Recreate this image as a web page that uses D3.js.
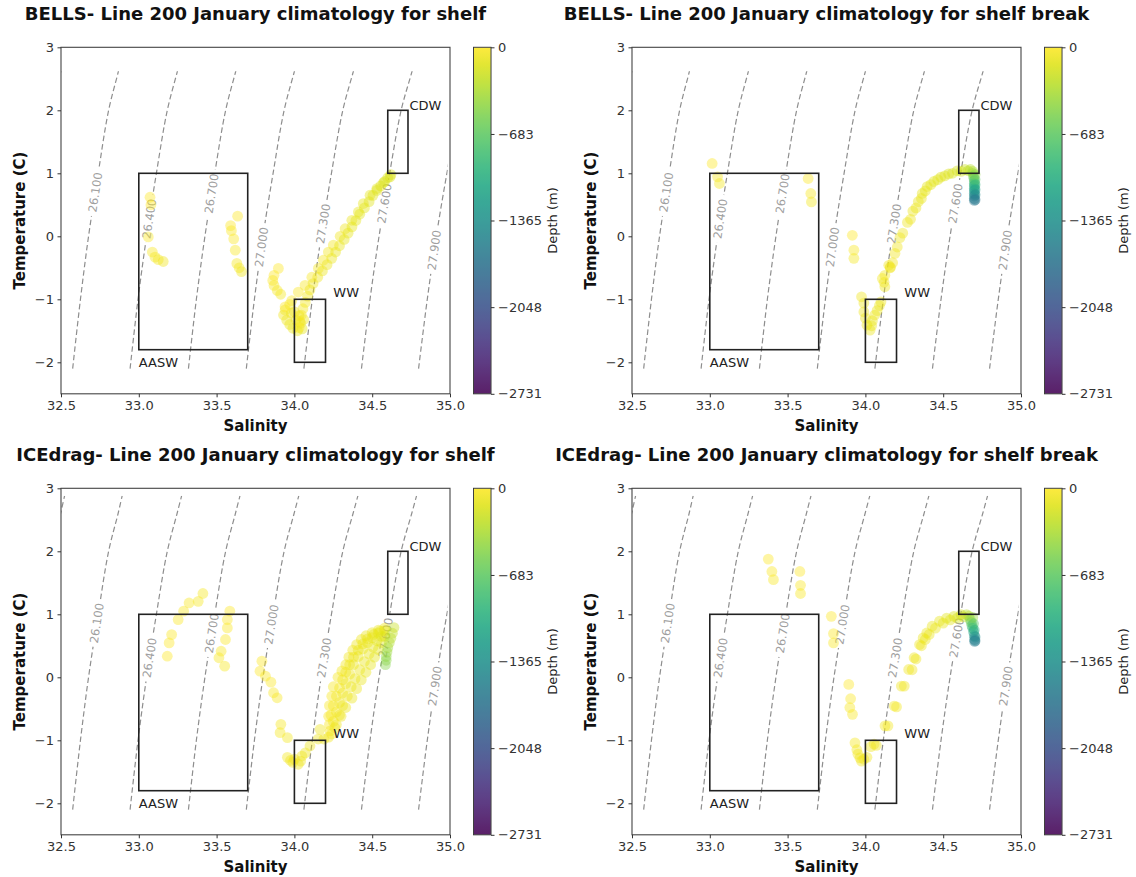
<!DOCTYPE html>
<html>
<head>
<meta charset="utf-8">
<script src="https://cdn.jsdelivr.net/npm/d3@7"></script>
<style>
  body { margin: 0; background: #fff; }
  text { font-family: "DejaVu Sans", sans-serif; }
</style>
</head>
<body>
<svg id="chart"></svg>
<script>
// ---- data ----
const titles = [
  'BELLS- Line 200 January climatology for shelf',
  'BELLS- Line 200 January climatology for shelf break',
  'ICEdrag- Line 200 January climatology for shelf',
  'ICEdrag- Line 200 January climatology for shelf break'
];
const salinityTicks = [32.5, 33.0, 33.5, 34.0, 34.5, 35.0];
const temperatureTicks = [-2, -1, 0, 1, 2, 3];
const depthTicks = [0, -683, -1365, -2048, -2731];

// isopycnals (sigma-theta): salinity at each temperature level
const isoLevels = [25.8, 26.1, 26.4, 26.7, 27.0, 27.3, 27.6, 27.9];
const isoTemps = [-2.1, -1, 0, 1, 2, 2.6, 2.88];
const isoSalinity = [
  [32.205, 32.255, 32.307, 32.369, 32.436, 32.497, 32.523],
  [32.575, 32.625, 32.677, 32.739, 32.806, 32.867, 32.893],
  [32.944, 32.995, 33.050, 33.113, 33.183, 33.246, 33.275],
  [33.319, 33.370, 33.425, 33.488, 33.558, 33.621, 33.650],
  [33.691, 33.743, 33.798, 33.863, 33.934, 33.998, 34.028],
  [34.061, 34.115, 34.172, 34.238, 34.311, 34.377, 34.408],
  [34.431, 34.486, 34.544, 34.612, 34.686, 34.754, 34.785],
  [34.798, 34.854, 34.912, 34.980, 35.055, 35.125, 35.160]
];
const isoGridTop = [2.62, 2.62, 2.88, 2.88];      // top of the density grid per panel
const isoGridMaxSalinity = 34.985;
const isoLabelTempsTop = [null, 0.70, 0.28, 0.68, -0.17, 0.20, 0.52, -0.22];
const isoLabelTempsBottom = [null, 0.86, 0.31, 0.70, 0.84, 0.31, 0.63, -0.14];

const waterMassNames = ['AASW', 'WW', 'CDW'];
const waterMassSalinity = [[33.0, 33.7], [34.0, 34.2], [34.6, 34.73]];
const waterMassTemperature = [[-1.8, 1.0], [-2.0, -1.0], [1.0, 2.0]];
const waterMassLabelAt = [[33.0, -2.0], [34.25, -0.9], [34.74, 2.08]];

// [salinity, temperature, depth]
const bellsShelf = [
  [33.072, 0.62, -5], [33.078, 0.5, -10], [33.061, -0.01, -20], [33.087, -0.25, -30],
  [33.104, -0.33, -40], [33.125, -0.37, -50], [33.157, -0.40, -60],
  [33.635, 0.32, -5], [33.59, 0.17, -10], [33.595, 0.09, -15], [33.61, -0.04, -20],
  [33.62, -0.22, -30], [33.63, -0.43, -40], [33.645, -0.5, -50], [33.66, -0.56, -60],
  [33.897, -0.51, -5], [33.869, -0.62, -10], [33.861, -0.70, -20], [33.869, -0.78, -30],
  [33.89, -0.86, -40], [33.912, -0.92, -50],
  [33.93, -1.25, -60], [33.94, -1.17, -55], [33.95, -1.33, -70], [33.97, -1.40, -80],
  [33.99, -1.46, -90], [34.02, -1.5, -100], [34.05, -1.47, -110], [33.98, -1.22, -65],
  [34.01, -1.33, -75], [34.04, -1.38, -85], [33.97, -1.08, -50], [34.0, -1.2, -60],
  [34.03, -1.26, -70], [34.06, -1.32, -80],
  [33.94, -1.12, -10], [33.983, -1.02, -15], [34.025, -0.885, -20], [34.068, -0.78, -25],
  [34.112, -0.65, -30], [34.154, -0.51, -35], [34.186, -0.38, -40], [34.218, -0.25, -45],
  [34.25, -0.14, -50], [34.294, 0.0, -60], [34.326, 0.12, -70], [34.369, 0.254, -80],
  [34.411, 0.386, -90], [34.443, 0.52, -100], [34.486, 0.652, -110], [34.53, 0.758, -120],
  [34.572, 0.85, -130], [34.615, 0.943, -140],
  [34.03, -1.45, -30], [34.035, -1.35, -35], [34.045, -1.25, -40], [34.055, -1.15, -45],
  [34.07, -1.05, -50], [34.085, -0.95, -55], [34.1, -0.85, -60], [34.12, -0.75, -65],
  [34.15, -0.65, -70], [34.18, -0.55, -75], [34.21, -0.45, -80], [34.24, -0.35, -85],
  [34.265, -0.25, -90], [34.29, -0.15, -95], [34.32, -0.05, -100], [34.345, 0.05, -105],
  [34.37, 0.15, -110], [34.395, 0.25, -115], [34.42, 0.35, -120], [34.45, 0.45, -125],
  [34.48, 0.55, -130], [34.505, 0.65, -135], [34.53, 0.73, -140], [34.555, 0.8, -145],
  [34.58, 0.87, -150], [34.6, 0.93, -155], [34.62, 0.98, -160]
];

const bellsBreak = [
  [33.015, 1.156, -10], [33.05, 0.944, -30], [33.062, 0.838, -50],
  [33.632, 0.917, -10], [33.649, 0.679, -30], [33.653, 0.546, -50],
  [33.916, 0.016, -10], [33.926, -0.22, -30], [33.926, -0.35, -50],
  [33.975, -0.96, -60], [33.99, -1.06, -65], [33.99, -1.2, -70], [34.0, -1.3, -75],
  [34.01, -1.41, -80], [34.03, -1.49, -85], [34.04, -1.42, -90], [34.045, -1.34, -90],
  [34.06, -1.25, -85], [34.075, -1.18, -80], [34.09, -1.1, -75], [34.1, -1.04, -70],
  [34.12, -0.73, -60], [34.125, -0.8, -65], [34.15, -0.46, -55], [34.16, -0.5, -55],
  [34.109, -0.67, -50], [34.16, -0.49, -55], [34.19, -0.27, -60], [34.222, -0.02, -65],
  [34.27, 0.22, -70], [34.305, 0.4, -80], [34.34, 0.55, -90], [34.365, 0.68, -100],
  [34.397, 0.79, -110], [34.44, 0.87, -120], [34.485, 0.94, -130], [34.535, 0.99, -150],
  [34.59, 1.04, -180], [34.64, 1.06, -230], [34.675, 1.06, -300],
  [34.125, -0.62, -50], [34.175, -0.42, -55], [34.205, -0.17, -60], [34.24, 0.05, -65],
  [34.29, 0.27, -70], [34.325, 0.45, -80], [34.36, 0.6, -90], [34.385, 0.72, -100],
  [34.42, 0.82, -110], [34.465, 0.9, -120], [34.51, 0.96, -130], [34.56, 1.0, -150],
  [34.615, 1.03, -190], [34.66, 1.04, -250], [34.69, 1.03, -330],
  [34.69, 1.0, -400], [34.695, 0.96, -520], [34.697, 0.92, -650], [34.7, 0.88, -780],
  [34.7, 0.84, -900], [34.7, 0.8, -1020], [34.7, 0.76, -1140], [34.7, 0.72, -1250],
  [34.7, 0.68, -1360], [34.7, 0.64, -1460], [34.7, 0.6, -1560], [34.7, 0.57, -1660],
  [34.705, 0.98, -450], [34.705, 0.9, -700], [34.705, 0.82, -950], [34.705, 0.74, -1200],
  [34.705, 0.66, -1420], [34.705, 0.58, -1620]
];

const icedragShelf = [
  [33.183, 0.335, -5], [33.195, 0.546, -10], [33.211, 0.678, -15], [33.253, 0.916, -20],
  [33.288, 1.05, -25], [33.323, 1.18, -30], [33.382, 1.206, -35], [33.412, 1.33, -40],
  [33.585, 1.05, -5], [33.569, 0.916, -10], [33.569, 0.784, -15], [33.557, 0.6, -20],
  [33.529, 0.414, -25], [33.515, 0.31, -30], [33.552, 0.177, -35],
  [33.791, 0.256, -5], [33.779, 0.098, -10], [33.814, 0.018, -15], [33.849, -0.077, -20],
  [33.866, -0.245, -25], [33.889, -0.325, -30], [33.913, -0.747, -35], [33.908, -0.879, -40],
  [33.955, -0.958, -45],
  [33.955, -1.27, -50], [33.975, -1.32, -55], [33.99, -1.35, -60], [34.025, -1.38, -65],
  [34.048, -1.25, -70], [34.07, -1.2, -70], [34.1, -1.09, -70], [34.153, -0.98, -70],
  [34.165, -0.826, -65], [34.19, -0.98, -70], [34.0, -1.3, -60], [34.04, -1.33, -65],
  [34.22, -0.62, -20], [34.225, -0.45, -25], [34.24, -0.3, -30], [34.25, -0.15, -35],
  [34.28, 0.0, -40], [34.305, 0.1, -45], [34.33, 0.2, -50], [34.35, 0.32, -55],
  [34.375, 0.43, -60], [34.4, 0.52, -65], [34.43, 0.6, -70], [34.46, 0.66, -75],
  [34.5, 0.71, -80], [34.54, 0.75, -85], [34.58, 0.78, -90],
  [34.225, -0.75, -30], [34.235, -0.6, -35], [34.25, -0.45, -40], [34.27, -0.3, -45],
  [34.29, -0.17, -50], [34.31, -0.04, -55], [34.33, 0.08, -60], [34.355, 0.2, -65],
  [34.38, 0.32, -70], [34.41, 0.43, -75], [34.44, 0.53, -80], [34.47, 0.61, -85],
  [34.51, 0.68, -90], [34.55, 0.73, -95],
  [34.23, -0.85, -40], [34.25, -0.7, -45], [34.27, -0.55, -50], [34.29, -0.4, -55],
  [34.31, -0.25, -60], [34.33, -0.1, -65], [34.355, 0.05, -70], [34.38, 0.2, -75],
  [34.41, 0.33, -80], [34.44, 0.45, -85], [34.47, 0.55, -90], [34.5, 0.63, -95],
  [34.54, 0.7, -100], [34.58, 0.74, -110],
  [34.24, -0.9, -50], [34.27, -0.75, -55], [34.29, -0.6, -60], [34.31, -0.45, -65],
  [34.34, -0.3, -70], [34.365, -0.15, -75], [34.39, -0.02, -80], [34.42, 0.12, -85],
  [34.45, 0.25, -90], [34.48, 0.37, -95], [34.505, 0.48, -100], [34.53, 0.58, -110],
  [34.56, 0.65, -120],
  [34.22, -0.95, -60], [34.26, -0.8, -65], [34.3, -0.62, -70], [34.33, -0.48, -75],
  [34.37, -0.33, -80], [34.4, -0.18, -85], [34.43, -0.04, -90], [34.46, 0.08, -95],
  [34.49, 0.2, -100], [34.515, 0.32, -110], [34.54, 0.44, -120], [34.56, 0.55, -130],
  [34.58, 0.65, -140],
  [34.585, 0.2, -500], [34.59, 0.27, -480], [34.59, 0.33, -450], [34.595, 0.4, -420],
  [34.6, 0.47, -380], [34.61, 0.55, -320], [34.62, 0.62, -280], [34.63, 0.7, -250],
  [34.64, 0.79, -230]
];

const icedragBreak = [
  [33.376, 1.876, -5], [33.399, 1.68, -15], [33.409, 1.55, -25],
  [33.579, 1.68, -5], [33.583, 1.46, -15], [33.583, 1.33, -25],
  [33.781, 0.968, -5], [33.795, 0.694, -15], [33.795, 0.546, -25],
  [33.893, -0.113, -10], [33.905, -0.34, -20], [33.9, -0.48, -25], [33.917, -0.588, -30],
  [33.933, -1.04, -40], [33.945, -1.15, -45], [33.952, -1.22, -50], [33.965, -1.28, -55],
  [33.975, -1.33, -60], [33.99, -1.3, -60], [34.01, -1.27, -60], [34.035, -1.1, -55],
  [34.056, -1.06, -55], [34.07, -1.08, -55], [34.126, -0.77, -50], [34.145, -0.77, -50],
  [34.185, -0.456, -50], [34.2, -0.47, -50], [34.231, -0.14, -55], [34.25, -0.14, -55],
  [34.278, 0.124, -60], [34.3, 0.12, -60], [34.313, 0.31, -65], [34.325, 0.29, -65],
  [34.348, 0.52, -70], [34.371, 0.625, -75], [34.394, 0.704, -80], [34.429, 0.81, -90],
  [34.476, 0.89, -100], [34.522, 0.94, -120], [34.569, 0.968, -150], [34.615, 0.995, -200],
  [34.65, 0.995, -280],
  [34.36, 0.5, -70], [34.385, 0.6, -75], [34.41, 0.68, -80], [34.45, 0.78, -90],
  [34.5, 0.86, -100], [34.545, 0.91, -120], [34.59, 0.94, -150], [34.63, 0.96, -210],
  [34.665, 0.97, -300],
  [34.674, 0.915, -500], [34.68, 0.87, -650], [34.685, 0.82, -800], [34.69, 0.78, -950],
  [34.695, 0.72, -1100], [34.7, 0.66, -1300], [34.702, 0.6, -1450], [34.702, 0.57, -1600],
  [34.69, 0.95, -420], [34.695, 0.85, -720], [34.7, 0.75, -1020], [34.705, 0.64, -1380],
  [34.705, 0.58, -1550]
];

const panelData = [bellsShelf, bellsBreak, icedragShelf, icedragBreak];

// ---- layout ----
const W = 1136, H = 877;
const panelOrigins = [[61, 47.3], [632, 47.3], [61, 488.3], [632, 488.3]];
const plotW = 389, plotH = 346.5;
const cbOffset = 412.5, cbWidth = 17.5;

const svg = d3.select('#chart').attr('width', W).attr('height', H);
svg.append('rect').attr('width', W).attr('height', H).attr('fill', '#fff');
const defs = svg.append('defs');

const x = d3.scaleLinear().domain([32.5, 35]).range([0, plotW]);
const y = d3.scaleLinear().domain([-2.5, 3]).range([plotH, 0]);
const depthScale = d3.scaleLinear().domain([-2731, 0]).range([plotH, 0]);
const depthColor = d3.scaleSequential(d3.interpolateViridis).domain([-2731, 0]);

const grad = defs.append('linearGradient').attr('id', 'viridis')
  .attr('x1', 0).attr('y1', 1).attr('x2', 0).attr('y2', 0);
d3.range(0, 1.0001, 0.05).forEach(t => {
  grad.append('stop').attr('offset', t).attr('stop-color', d3.interpolateViridis(t));
});

const minusFormat = d3.format('d');

function styleAxis(g) {
  g.select('.domain').remove();
  g.selectAll('line').attr('stroke', '#333').attr('stroke-width', 1);
  g.selectAll('text').attr('font-size', 13).attr('fill', '#333')
    .attr('font-family', '"DejaVu Sans", sans-serif');
}

panelOrigins.forEach(([ox, oy], i) => {
  const g = svg.append('g').attr('transform', `translate(${ox},${oy})`);
  const labelTemps = i < 2 ? isoLabelTempsTop : isoLabelTempsBottom;

  // title
  g.append('text')
    .attr('x', plotW / 2).attr('y', -27.5)
    .attr('text-anchor', 'middle')
    .attr('font-size', 18).attr('font-weight', 'bold').attr('fill', '#111')
    .text(titles[i]);

  // isopycnals
  defs.append('clipPath').attr('id', 'iso-clip-' + i)
    .append('rect')
    .attr('x', x(32.5)).attr('y', y(isoGridTop[i]))
    .attr('width', x(isoGridMaxSalinity) - x(32.5))
    .attr('height', y(-2.2) - y(isoGridTop[i]));

  const mask = defs.append('mask').attr('id', 'iso-mask-' + i)
    .attr('maskUnits', 'userSpaceOnUse')
    .attr('x', -20).attr('y', -20).attr('width', plotW + 40).attr('height', plotH + 40);
  mask.append('rect').attr('x', -20).attr('y', -20)
    .attr('width', plotW + 40).attr('height', plotH + 40).attr('fill', '#fff');

  const isoLine = d3.line()
    .x(d => x(d[0])).y(d => y(d[1]))
    .curve(d3.curveCatmullRom.alpha(0.5));

  const isoG = g.append('g')
    .attr('clip-path', `url(#iso-clip-${i})`)
    .attr('mask', `url(#iso-mask-${i})`);

  isoLevels.forEach((level, k) => {
    const pts = isoTemps.map((t, j) => [isoSalinity[k][j], t]);
    isoG.append('path')
      .attr('d', isoLine(pts))
      .attr('fill', 'none')
      .attr('stroke', '#8e8e8e')
      .attr('stroke-width', 1.2)
      .attr('stroke-dasharray', '5.5,3');

    const tl = labelTemps[k];
    if (tl === null) return;
    const salAt = d3.scaleLinear().domain(isoTemps).range(isoSalinity[k]);
    const px = x(salAt(tl)), py = y(tl);
    const ang = Math.atan2(y(tl + 0.15) - y(tl - 0.15), x(salAt(tl + 0.15)) - x(salAt(tl - 0.15))) * 180 / Math.PI;
    mask.append('rect')
      .attr('x', px - 24).attr('y', py - 6.5).attr('width', 48).attr('height', 13)
      .attr('transform', `rotate(${ang},${px},${py})`)
      .attr('fill', '#000');
    g.append('text')
      .attr('x', px).attr('y', py)
      .attr('transform', `rotate(${ang},${px},${py})`)
      .attr('text-anchor', 'middle').attr('dominant-baseline', 'central')
      .attr('font-size', 11.5).attr('fill', '#a0a0a0')
      .text(d3.format('.3f')(level));
  });

  // scatter
  g.append('g').selectAll('circle')
    .data(panelData[i])
    .join('circle')
    .attr('cx', d => x(d[0]))
    .attr('cy', d => y(d[1]))
    .attr('r', 5.4)
    .attr('fill', d => depthColor(d[2]))
    .attr('fill-opacity', 0.42);

  // water mass boxes
  waterMassNames.forEach((name, m) => {
    const [s0, s1] = waterMassSalinity[m];
    const [t0, t1] = waterMassTemperature[m];
    g.append('rect')
      .attr('x', x(s0)).attr('y', y(t1))
      .attr('width', x(s1) - x(s0)).attr('height', y(t0) - y(t1))
      .attr('fill', 'none').attr('stroke', '#222').attr('stroke-width', 1.6);
    g.append('text')
      .attr('x', x(waterMassLabelAt[m][0])).attr('y', y(waterMassLabelAt[m][1]))
      .attr('dominant-baseline', 'central')
      .attr('font-size', 13).attr('fill', '#222')
      .text(name);
  });

  // frame + axes
  g.append('rect').attr('width', plotW).attr('height', plotH)
    .attr('fill', 'none').attr('stroke', '#444').attr('stroke-width', 1.1);

  g.append('g').attr('transform', `translate(0,${plotH})`)
    .call(d3.axisBottom(x).tickValues(salinityTicks).tickFormat(d3.format('.1f'))
      .tickSize(3.5).tickPadding(3.5))
    .call(styleAxis);

  g.append('g')
    .call(d3.axisLeft(y).tickValues(temperatureTicks).tickFormat(minusFormat)
      .tickSize(3.5).tickPadding(3.5))
    .call(styleAxis);

  g.append('text')
    .attr('x', plotW / 2).attr('y', plotH + 37)
    .attr('text-anchor', 'middle')
    .attr('font-size', 15).attr('font-weight', 'bold').attr('fill', '#111')
    .text('Salinity');

  g.append('text')
    .attr('transform', `translate(-36,${plotH / 2}) rotate(-90)`)
    .attr('text-anchor', 'middle')
    .attr('font-size', 15).attr('font-weight', 'bold').attr('fill', '#111')
    .text('Temperature (C)');

  // colorbar
  const cb = g.append('g').attr('transform', `translate(${cbOffset},0)`);
  cb.append('rect').attr('width', cbWidth).attr('height', plotH)
    .attr('fill', 'url(#viridis)').attr('stroke', '#333').attr('stroke-width', 1);
  cb.append('rect').attr('width', cbWidth).attr('height', plotH)
    .attr('fill', '#fff').attr('fill-opacity', 0.12);
  cb.append('g').attr('transform', `translate(${cbWidth},0)`)
    .call(d3.axisRight(depthScale).tickValues(depthTicks).tickFormat(minusFormat)
      .tickSize(3.5).tickPadding(3.5))
    .call(styleAxis);
  cb.append('text')
    .attr('transform', `translate(${496 - cbOffset},${plotH / 2}) rotate(-90)`)
    .attr('text-anchor', 'middle')
    .attr('font-size', 13).attr('fill', '#222')
    .text('Depth (m)');
});
</script>
</body>
</html>
